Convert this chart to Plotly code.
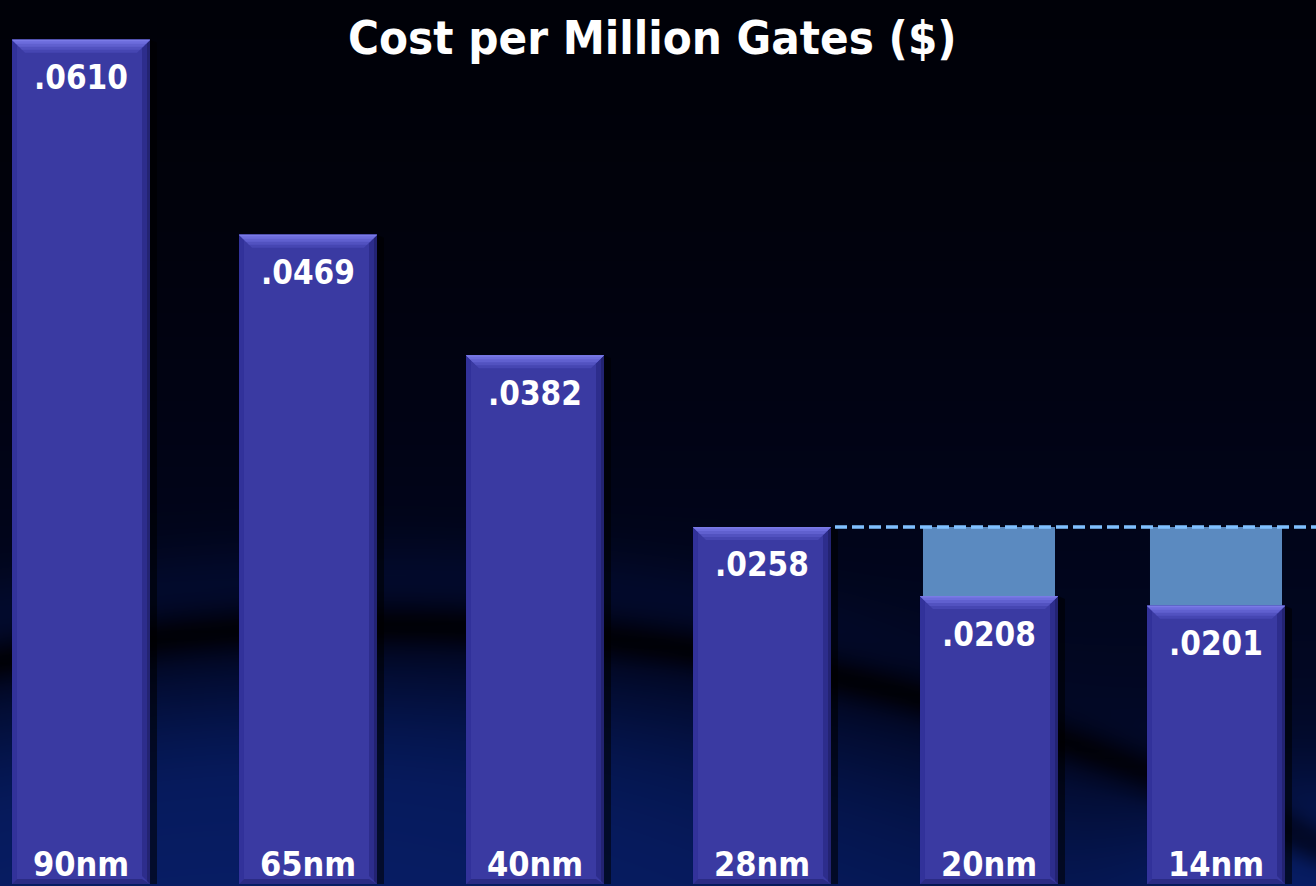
import numpy as np
import plotly.graph_objects as go

# ---- data ----
nodes = ["90nm", "65nm", "40nm", "28nm", "20nm", "14nm"]
cost_per_mgate = [0.0610, 0.0469, 0.0382, 0.0258, 0.0208, 0.0201]
reference_node = "28nm"          # cost level the later nodes are compared against
title_text = "Cost per Million Gates ($)"

W, H = 1316, 886
FONT = "DejaVu Sans Condensed, DejaVu Sans, sans-serif"

# axis ranges for the bar subplot
x_lo = -0.3568
x_hi = x_lo + W / 227.0
y_lo = -0.000145
y_hi = 0.06387
px_x = W / (x_hi - x_lo)          # pixels per x unit
px_y = H / (y_hi - y_lo)          # pixels per y unit
bar_w = 0.608
ref_val = cost_per_mgate[nodes.index(reference_node)]
xs = list(range(len(nodes)))

# ---- background: dark gradient with a soft swoosh (screen coords, y down) ----
gx = np.linspace(0, W, 166)
gy = np.linspace(0, H, 112)
X, Y = np.meshgrid(gx, gy)
curve = 620 + 0.00025 * (X - 380) ** 2
d = Y - curve
bright = 0.05 + 0.28 * (Y / H) ** 1.8
left_w = 0.35 + 0.65 * np.exp(-((X - 250) / 700) ** 2)
bright += 0.30 * left_w / (1 + np.exp(-(d - 70) / 35))
fade_right = 1 / (1 + np.exp((X - 850) / 80))
bright += 0.10 * np.exp(-((d + 45) / 40) ** 2) * fade_right
bright *= 1 - 0.85 * np.exp(-((d - 5) / 22) ** 2)
corner = np.exp(-(((X - W) / 160) ** 2 + ((Y - H) / 120) ** 2))
bright += 0.25 * corner
bright = np.clip(bright, 0, 1)

fig = go.Figure()
fig.add_trace(go.Heatmap(
    x=gx, y=gy, z=bright, xaxis="x", yaxis="y", zsmooth="best",
    zmin=0, zmax=1, showscale=False, hoverinfo="skip",
    colorscale=[[0.0, "#000000"], [0.12, "#010314"], [0.3, "#020a2c"],
                [0.55, "#061a5c"], [1.0, "#0c2a88"]],
))

# ---- bars ----
fig.add_trace(go.Bar(
    x=xs, y=cost_per_mgate, width=bar_w, xaxis="x2", yaxis="y2",
    marker=dict(color="#3a3aa2", line=dict(width=0)), hoverinfo="skip",
))

# cost gap above the cheaper nodes, up to the reference level
later = [i for i, v in enumerate(cost_per_mgate) if i > nodes.index(reference_node)]
fig.add_trace(go.Bar(
    x=[xs[i] for i in later],
    y=[ref_val - cost_per_mgate[i] for i in later],
    base=[cost_per_mgate[i] for i in later],
    width=bar_w - 6 / px_x, xaxis="x2", yaxis="y2",
    marker=dict(color="#5b8ac0", line=dict(width=0)), hoverinfo="skip",
))

shapes = []


def poly(pts, color, opacity=1.0):
    path = "M " + " L ".join(f"{a},{b}" for a, b in pts) + " Z"
    shapes.append(dict(type="path", path=path, xref="x2", yref="y2",
                       fillcolor=color, line=dict(width=0), opacity=opacity,
                       layer="above"))


ux = 1 / px_x
uy = 1 / px_y
for i, v in enumerate(cost_per_mgate):
    x0, x1 = xs[i] - bar_w / 2, xs[i] + bar_w / 2
    # outer shadow to the right
    poly([(x1, v), (x1 + 7 * ux, v - 3 * uy), (x1 + 7 * ux, 0), (x1, 0)], "#000000", 0.55)
    # side edges
    poly([(x0, v), (x0 + 5 * ux, v - 5 * uy), (x0 + 5 * ux, 5 * uy), (x0, 0)], "#32329a")
    poly([(x1, v), (x1 - 8 * ux, v - 8 * uy), (x1 - 8 * ux, 8 * uy), (x1, 0)], "#2d2d8c")
    poly([(x1, v), (x1 - 3 * ux, v - 3 * uy), (x1 - 3 * ux, 3 * uy), (x1, 0)], "#232372")
    # bottom edge
    poly([(x0, 0), (x0 + 5 * ux, 5 * uy), (x1 - 8 * ux, 5 * uy), (x1, 0)], "#2b2b84")
    # top bevel, light at the rim and fading toward the face
    for depth, col in [(13, "#4646b2"), (10, "#5252c0"), (7, "#6060cf"),
                       (4, "#6c6cdc"), (1.5, "#7a7ae6")]:
        poly([(x0, v), (x1, v), (x1 - depth * ux, v - depth * uy),
              (x0 + depth * ux, v - depth * uy)], col)

# dashed line at the reference cost level
ri = nodes.index(reference_node)
shapes.append(dict(type="line", xref="x2", yref="y2",
                   x0=xs[ri] + bar_w / 2 + 4 / px_x, x1=x_hi,
                   y0=ref_val, y1=ref_val,
                   line=dict(color="#80c0ff", width=3.5, dash="12px,5px"),
                   layer="above"))

annotations = []
for i, v in enumerate(cost_per_mgate):
    annotations.append(dict(
        x=xs[i], y=v, xref="x2", yref="y2", yshift=-38, yanchor="middle",
        text=f"{v:.4f}"[1:], showarrow=False,
        font=dict(family=FONT, size=33, color="white", weight="bold"),
    ))
    annotations.append(dict(
        x=xs[i], y=0, xref="x2", yref="y2", yshift=20, yanchor="middle",
        text=nodes[i], showarrow=False,
        font=dict(family=FONT, size=34, color="white", weight="bold"),
    ))

annotations.append(dict(
    x=0.4955, y=37, xref="paper", yref="y", yanchor="middle",
    text=title_text, showarrow=False,
    font=dict(family=FONT, size=47, color="white", weight="bold"),
))

fig.update_layout(
    width=W, height=H, margin=dict(l=0, r=0, t=0, b=0),
    paper_bgcolor="#000000", plot_bgcolor="rgba(0,0,0,0)",
    showlegend=False, barmode="overlay",
    xaxis=dict(range=[0, W], visible=False, fixedrange=True),
    yaxis=dict(range=[H, 0], visible=False, fixedrange=True),
    xaxis2=dict(range=[x_lo, x_hi], visible=False, overlaying="x", fixedrange=True),
    yaxis2=dict(range=[y_lo, y_hi], visible=False, overlaying="y", fixedrange=True),
    shapes=shapes, annotations=annotations,
)

fig.write_html("out.html", config={"displayModeBar": False})
